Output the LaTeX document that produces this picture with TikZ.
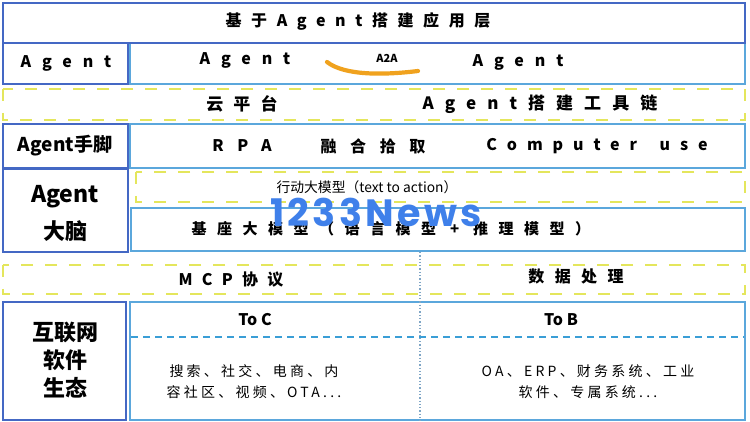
\documentclass[tikz,border=0pt]{standalone}
\usepackage{fontspec}
\setmainfont{Noto Sans CJK SC}
\newfontfamily\wmfont{Poppins}
\usetikzlibrary{arrows.meta}
\definecolor{dkblue}{HTML}{4468C4}
\definecolor{ltblue}{HTML}{5BA7DC}
\definecolor{ylw}{HTML}{E4E65C}
\definecolor{orng}{HTML}{F0A21E}
\definecolor{wmblue}{HTML}{3F80EA}
\definecolor{dotc}{HTML}{7FA6C6}
\definecolor{dashc}{HTML}{3A9ED6}
\newcommand{\ls}[1]{\addfontfeature{LetterSpace=#1}}
\begin{document}
\begin{tikzpicture}[x=1pt,y=-1pt,
  dkbox/.style={draw=dkblue, line width=2.6pt},
  ltbox/.style={draw=ltblue, line width=2.4pt},
  ybox/.style={draw=ylw, line width=2.6pt, dash pattern=on 12pt off 12pt},
  txt/.style={inner sep=0pt, text=black},
  bt/.style={txt, font=\bfseries\fontsize{16}{18}\selectfont},
  nt/.style={txt, font=\fontsize{14}{21}\selectfont, align=center}
]
\useasboundingbox[fill=white] (0,0) rectangle (750,422);

% boxes
\draw[ltbox] (130,43) rectangle (745,84);
\draw[dkbox] (3,3) rectangle (745,43);
\draw[dkbox] (3,43) rectangle (128,84);
\draw[ybox] (3,89) rectangle (745,120);
\draw[ltbox] (130,124) rectangle (745,168);
\draw[dkbox] (3,124) rectangle (128,168);
\draw[ybox] (136,172) rectangle (745,202);
\draw[ltbox] (131,208) rectangle (745,251);
\draw[dkbox] (3,169) rectangle (128,252);
\draw[ybox] (3,265) rectangle (745,294);
\draw[ltbox] (130,302) rectangle (745,420);
\draw[dkbox] (3,302) rectangle (126,420);

% dividers
\draw[dotc, line width=1.3pt, dotted] (420,252) -- (420,421);
\draw[dashc, line width=2.5pt, dash pattern=on 7pt off 5pt] (131,337) -- (744,337);

% texts
\node[bt, font=\bfseries\fontsize{16}{18}\selectfont\ls{60}] (title) at (358,21) {基于Agent搭建应用层};
\node[bt, font=\bfseries\fontsize{16}{18}\selectfont\ls{68}] (agentL) at (66,63) {Agent};
\node[bt, font=\bfseries\fontsize{16}{18}\selectfont\ls{68}] (agentA) at (245,60) {Agent};
\node[bt, font=\bfseries\fontsize{16}{18}\selectfont\ls{68}] (agentB) at (518,62) {Agent};
\node[txt, font=\bfseries\fontsize{11}{13}\selectfont] (a2a) at (387,58) {A2A};
\coordinate (a2as) at (418,71);
\coordinate (a2ae) at (327,62);
\draw[orng, line width=4.2pt, line cap=round] (a2as) .. controls (385,75) and (345,76) .. (a2ae);

\node[bt, font=\bfseries\fontsize{17}{19}\selectfont\ls{60}] (cloud) at (242,104) {云平台};
\node[bt, font=\bfseries\fontsize{17}{19}\selectfont\ls{65}] (chain) at (540,104) {Agent搭建工具链};

\node[bt, font=\bfseries\fontsize{19}{21}\selectfont] (hands) at (65,146) {Agent手脚};
\node[bt, font=\bfseries\fontsize{16}{18}\selectfont\ls{85}] (rpa) at (242,146) {RPA};
\node[bt, font=\bfseries\fontsize{16}{18}\selectfont\ls{85}] (fuse) at (373,146) {融合拾取};
\node[bt, font=\bfseries\fontsize{16}{18}\selectfont\ls{62}] (cu) at (597,146) {Computer\hspace{9pt} use};

\node[bt, font=\bfseries\fontsize{23}{25}\selectfont] (brainA) at (65,197) {Agent};
\node[bt, font=\bfseries\fontsize{22}{24}\selectfont] (brainB) at (65,231) {大脑};
\node[txt, font=\fontsize{13.8}{15}\selectfont] (act) at (367,187) {行动大模型（text to action）};
\node[bt, font=\bfseries\fontsize{15}{17}\selectfont\ls{70}] (base) at (391,229) {基座大模型（语言模型 + 推理模型）};

\node[bt, font=\bfseries\fontsize{16}{18}\selectfont\ls{58}] (mcp) at (231,280) {MCP协议};
\node[bt, font=\bfseries\fontsize{16}{18}\selectfont\ls{65}] (data) at (576,276) {数据处理};

\node[bt, font=\bfseries\fontsize{22}{28}\selectfont, align=center] (eco) at (65,360) {互联网\\软件\\生态};
\node[bt] (toc) at (255,320) {To C};
\node[bt] (tob) at (561,320) {To B};
\node[nt, font=\fontsize{14}{21}\selectfont\ls{23}] (cdesc) at (254,382) {搜索、社交、电商、内\\容社区、视频、OTA...};
\node[nt, font=\fontsize{14}{21}\selectfont\ls{23}] (bdesc) at (588,382) {OA、ERP、财务系统、工业\\软件、专属系统...};

% watermark
\node[txt, text=wmblue, font=\wmfont\bfseries\fontsize{38}{40}\selectfont\ls{9}] (wm) at (376,212) {1233News};
\end{tikzpicture}
\end{document}
